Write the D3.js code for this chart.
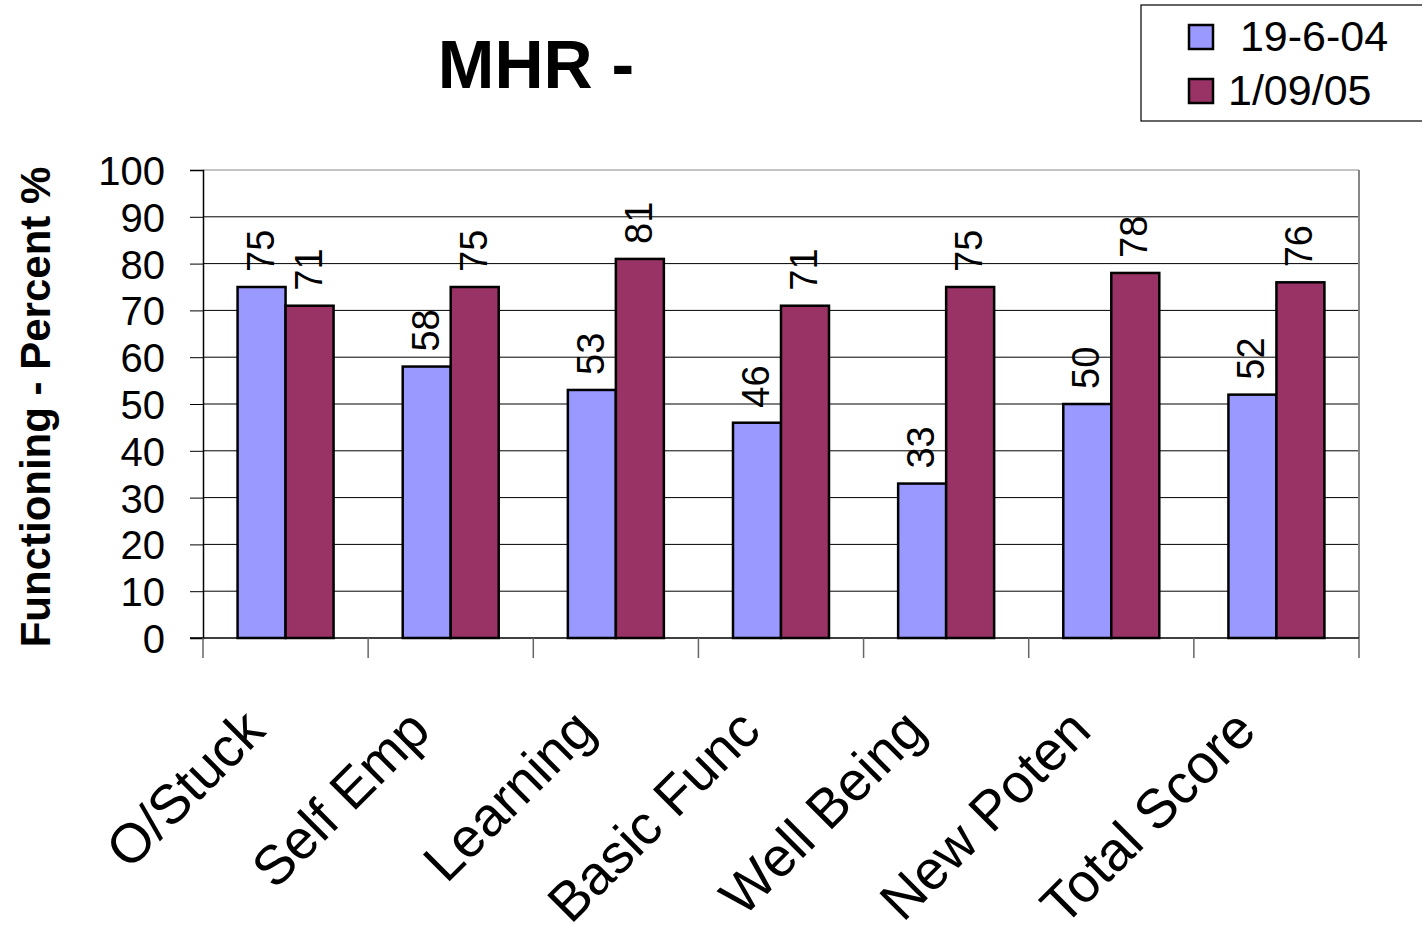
<!DOCTYPE html>
<html><head><meta charset="utf-8">
<script src="https://cdn.jsdelivr.net/npm/d3@7"></script>
<style>body{margin:0;background:#fff}svg{display:block;font-family:Arial,"Liberation Sans",sans-serif}</style>
</head><body>
<script>
const categories = ["O/Stuck","Self Emp","Learning","Basic Func","Well Being","New Poten","Total Score"];
const series1 = [75,58,53,46,33,50,52];
const series2 = [71,75,81,71,75,78,76];
const seriesNames = [" 19-6-04","1/09/05"];
const colors = ["#9999ff","#993366"];
const yTicks = [0,10,20,30,40,50,60,70,80,90,100];

const W=1422,H=939;
const svg=d3.select("body").append("svg").attr("width",W).attr("height",H);
const L=203,R=1359,T=170,B=638;
const x=d3.scaleBand().domain(categories).range([L,R]).paddingInner(0).paddingOuter(0);
const y=d3.scaleLinear().domain([0,100]).range([B,T]);
const bw=48;
const FF="Arial, Liberation Sans, sans-serif";

// gridlines
svg.append("g").selectAll("line").data(yTicks.slice(1)).join("line")
 .attr("x1",L).attr("x2",R).attr("y1",d=>y(d)).attr("y2",d=>y(d))
 .attr("stroke",d=>d===100?"#888":"#000").attr("stroke-width",1);
// right border
svg.append("line").attr("x1",R).attr("x2",R).attr("y1",T).attr("y2",B).attr("stroke","#888").attr("stroke-width",2);

// y axis
const ya=svg.append("g").attr("transform",`translate(${L},0)`)
 .call(d3.axisLeft(y).tickValues(yTicks).tickSize(13).tickPadding(25));
ya.attr("font-family",FF);
ya.select(".domain").attr("stroke","#000").attr("stroke-width",1.5);
ya.selectAll(".tick line").attr("stroke","#000");
ya.selectAll("text").attr("font-size",40).attr("fill","#000").attr("dy","0.36em");

// x axis
const xa=svg.append("g").attr("transform",`translate(0,${B})`)
 .call(d3.axisBottom(x).tickSize(0).tickFormat(""));
xa.select(".domain").attr("stroke","#000").attr("stroke-width",1.5).attr("d",`M${L-13},0H${R}`);
const bounds=[...categories.map(c=>x(c)),R];
xa.selectAll(".xt").data(bounds).join("line").attr("class","xt")
 .attr("x1",d=>d).attr("x2",d=>d).attr("y1",0).attr("y2",20).attr("stroke","#666").attr("stroke-width",1.5);

// bars
const data=categories.map((c,i)=>({c,v:[series1[i],series2[i]]}));
const g=svg.append("g");
data.forEach(d=>{
  const cx=x(d.c)+x.bandwidth()/2;
  d.v.forEach((v,j)=>{
    const x0=cx-bw+j*bw;
    g.append("rect").attr("x",x0).attr("y",y(v)).attr("width",bw).attr("height",B-y(v))
      .attr("fill",colors[j]).attr("stroke","#000").attr("stroke-width",2.5);
    g.append("text").attr("transform",`translate(${x0+bw/2+12},${y(v)-15}) rotate(-90)`)
      .attr("font-size",38).attr("fill","#000").text(v);
  });
  svg.append("text").attr("transform",`translate(${cx-18},${B+95}) rotate(-45)`)
   .attr("text-anchor","end").attr("font-size",55).attr("fill","#000").text(d.c);
});

// title
svg.append("text").attr("x",536).attr("y",88).attr("text-anchor","middle")
 .attr("font-size",68).attr("font-weight","bold").text("MHR -");
// y title
svg.append("text").attr("transform",`translate(50,${407}) rotate(-90)`).attr("text-anchor","middle")
 .attr("font-size",42).attr("font-weight","bold").text("Functioning - Percent %");

// legend
const lg=svg.append("g");
lg.append("rect").attr("x",1141).attr("y",5).attr("width",300).attr("height",116).attr("fill","#fff").attr("stroke","#000").attr("stroke-width",1.2);
seriesNames.forEach((n,i)=>{
  lg.append("rect").attr("x",1189).attr("y",25+i*54).attr("width",24).attr("height",24).attr("fill",colors[i]).attr("stroke","#000").attr("stroke-width",2.5);
  lg.append("text").attr("x",1228).attr("y",51+i*54).attr("font-size",43).attr("fill","#000").style("white-space","pre").text(n);
});
</script>
</body></html>
